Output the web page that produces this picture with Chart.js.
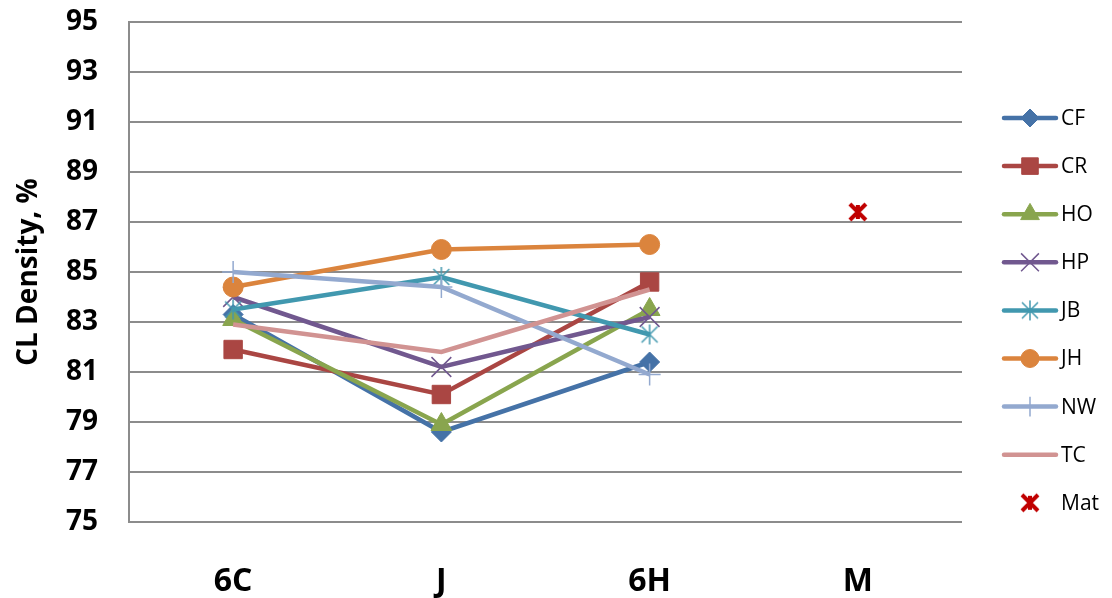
<!DOCTYPE html>
<html>
<head>
<meta charset="utf-8">
<script src="https://cdn.jsdelivr.net/npm/chart.js@4.4.0/dist/chart.umd.min.js"></script>
<style>
  html, body { margin: 0; padding: 0; background: #fff; }
  #wrap { width: 1112px; height: 598px; }
</style>
</head>
<body>
<div id="wrap"><canvas id="myChart" width="1112" height="598"></canvas></div>
<script>
// sample positions and density values (%)
const categories = ['6C', 'J', '6H', 'M'];
const yMin = 75, yMax = 95, yStep = 2;

const cf = [83.3, 78.6, 81.4, null];
const cr = [81.9, 80.1, 84.6, null];
const ho = [83.1, 78.9, 83.5, null];
const hp = [84.0, 81.2, 83.2, null];
const jb = [83.5, 84.8, 82.5, null];
const jh = [84.4, 85.9, 86.1, null];
const nw = [85.0, 84.4, 80.9, null];
const tc = [82.9, 81.8, 84.3, null];
const mat = [null, null, null, 87.4];

const gridGray = '#8c8c8c';
const font = "'Open Sans', 'DejaVu Sans', sans-serif";

// asterisk marker: X plus a vertical stroke
function starMark(color, size, lw, xArm, vArm) {
    const c = document.createElement('canvas');
    c.width = size;
    c.height = size;
    const g = c.getContext('2d');
    const m = size / 2;
    g.strokeStyle = color;
    g.lineWidth = lw;
    g.beginPath();
    g.moveTo(m - xArm, m - xArm); g.lineTo(m + xArm, m + xArm);
    g.moveTo(m + xArm, m - xArm); g.lineTo(m - xArm, m + xArm);
    g.moveTo(m, m - vArm); g.lineTo(m, m + vArm);
    g.stroke();
    return c;
}

function series(label, data, color, style, radius, pw, order) {
    return {
        label: label,
        data: data,
        borderColor: color,
        backgroundColor: color,
        borderWidth: 4.5,
        pointStyle: style,
        pointRadius: radius,
        pointHoverRadius: radius,
        pointBorderWidth: pw,
        pointBackgroundColor: color,
        pointBorderColor: color,
        spanGaps: false,
        order: order
    };
}

const datasets = [
    series('CF', cf, '#4572A7', 'rectRot', 10, 1, 9),
    series('CR', cr, '#AA4643', 'rect', 13, 1, 8),
    series('HO', ho, '#89A54E', 'triangle', 12, 1, 7),
    series('HP', hp, '#71588F', 'crossRot', 14, 1.5, 6),
    series('JB', jb, '#4198AF', starMark('#4198AF', 22, 1.5, 8, 10), 10, 0, 5),
    series('JH', jh, '#DB843D', 'circle', 10, 1, 4),
    series('NW', nw, '#93A9CF', 'cross', 11, 1.5, 3),
    series('TC', tc, '#D19392', false, 0, 0, 2),
    {
        label: 'Mat',
        data: mat,
        showLine: false,
        borderColor: '#C00000',
        backgroundColor: '#C00000',
        pointStyle: starMark('#C00000', 22, 4, 8, 7),
        pointRadius: 10,
        pointBorderWidth: 0,
        order: 1
    }
];

// legend column to the right of the plot
const sideLegend = {
    id: 'sideLegend',
    afterDraw(chart) {
        const ctx = chart.ctx;
        const area = chart.chartArea;
        const x0 = area.right + 42;
        const x1 = x0 + 52;
        const xm = (x0 + x1) / 2;
        ctx.save();
        chart.data.datasets.forEach((ds, i) => {
            const y = area.top + 96 + i * 48.1;
            if (ds.showLine !== false) {
                ctx.strokeStyle = ds.borderColor;
                ctx.lineWidth = 4.5;
                ctx.lineCap = 'round';
                ctx.beginPath();
                ctx.moveTo(x0, y);
                ctx.lineTo(x1, y);
                ctx.stroke();
            }
            if (ds.pointStyle) {
                ctx.fillStyle = ds.pointBackgroundColor || ds.backgroundColor;
                ctx.strokeStyle = ds.pointBorderColor || ds.borderColor;
                ctx.lineWidth = ds.pointBorderWidth || 1;
                ctx.lineCap = 'butt';
                Chart.helpers.drawPoint(ctx, {
                    pointStyle: ds.pointStyle,
                    radius: ds.pointRadius * 0.9,
                    rotation: 0,
                    borderWidth: ds.pointBorderWidth
                }, xm, y);
            }
            ctx.fillStyle = '#000';
            ctx.font = '21px ' + font;
            ctx.textAlign = 'left';
            ctx.textBaseline = 'middle';
            ctx.fillText(ds.label, x1 + 5, y + 1);
        });
        ctx.restore();
    }
};

const ctx = document.getElementById('myChart').getContext('2d');
const myChart = new Chart(ctx, {
    type: 'line',
    data: {
        labels: categories,
        datasets: datasets
    },
    plugins: [sideLegend],
    options: {
        responsive: false,
        animation: false,
        devicePixelRatio: 1,
        layout: {
            padding: { top: 22, right: 150, bottom: 0, left: 0 }
        },
        plugins: {
            legend: { display: false },
            tooltip: { enabled: false }
        },
        scales: {
            x: {
                offset: true,
                grid: { display: false },
                border: { display: false },
                ticks: {
                    color: '#000',
                    padding: 33,
                    font: { family: font, size: 32, weight: 'bold' }
                },
                afterFit(scale) { scale.height = 76; }
            },
            y: {
                min: yMin,
                max: yMax,
                grid: { color: gridGray, lineWidth: 2, drawTicks: false },
                border: { display: true, color: gridGray, width: 2 },
                ticks: {
                    stepSize: yStep,
                    color: '#000',
                    padding: 31,
                    font: { family: font, size: 28, weight: 'bold' }
                },
                title: {
                    display: true,
                    text: 'CL Density, %',
                    color: '#000',
                    padding: { top: 12, bottom: 0 },
                    font: { family: font, size: 28, weight: 'bold', lineHeight: 1.2 }
                },
                afterFit(scale) {
                    scale.width = 129;
                    // labels are allowed to overhang the plot edges
                    scale.paddingTop = 0;
                    scale.paddingBottom = 0;
                }
            }
        }
    }
});
</script>
</body>
</html>
